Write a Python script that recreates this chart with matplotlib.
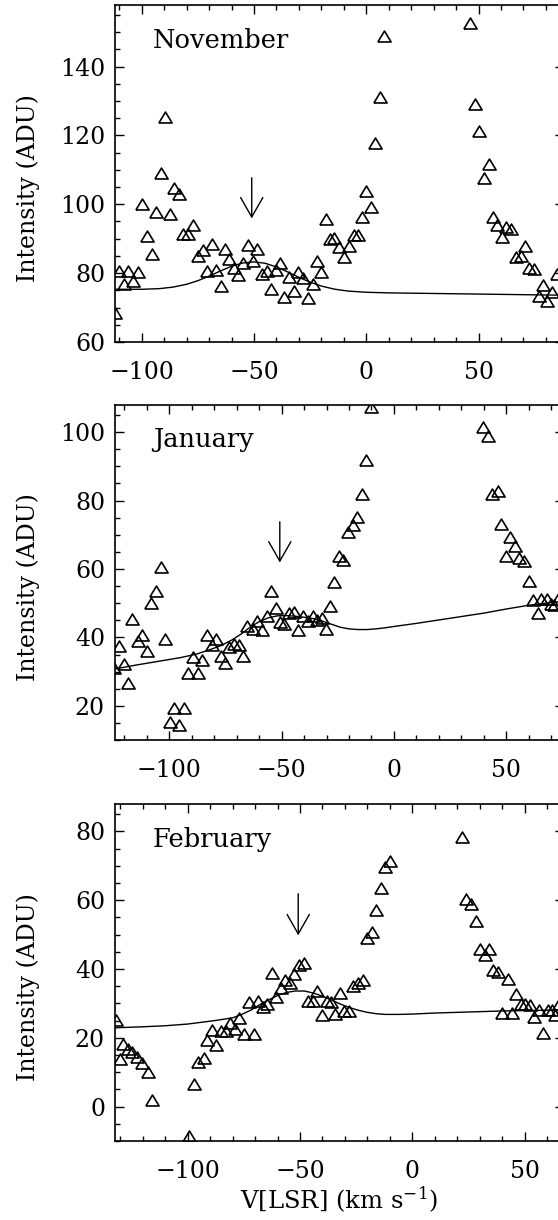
import matplotlib
matplotlib.use('Agg')
import matplotlib.pyplot as plt
from matplotlib.ticker import MultipleLocator

plt.rcParams['font.family'] = ['DejaVu Serif']
plt.rcParams['mathtext.fontset'] = 'dejavuserif'

# November
nov_v = [-112.0, -110.0, -108.0, -106.0, -103.8, -101.5, -99.8, -97.5, -95.6, -93.7,
         -91.6, -89.4, -87.4, -85.5, -83.4, -81.5, -79.2, -77.0, -75.1, -72.9,
         -71.1, -68.8, -66.9, -64.8, -62.9, -61.0, -58.9, -56.9, -54.7, -52.8,
         -50.6, -48.5, -46.5, -44.3, -42.4, -40.3, -38.4, -36.6, -34.2, -32.4,
         -30.2, -28.2, -26.0, -23.9, -22.0, -20.2, -18.0, -16.2, -14.2, -12.2,
         -9.9, -7.7, -5.6, -3.7, -1.8, 0.0, 2.2, 3.9, 6.0, 8.0,
         46.4, 48.3, 50.4, 52.5, 54.6, 56.5, 58.3, 60.5, 62.4, 64.5,
         66.6, 68.7, 70.6, 72.6, 74.6, 76.7, 78.6, 80.6, 82.8, 85.0]
nov_i = [68.3, 80.7, 76.8, 80.7, 77.7, 80.4, 100.1, 90.9, 85.7, 97.8,
         109.0, 125.3, 97.1, 104.6, 103.0, 91.5, 91.5, 94.0, 85.0, 86.7,
         80.7, 88.4, 80.9, 76.2, 86.9, 84.0, 81.4, 79.4, 82.8, 88.2,
         83.5, 86.9, 79.7, 80.7, 75.3, 80.9, 83.0, 73.1, 79.0, 74.8,
         80.4, 78.5, 72.8, 76.7, 83.6, 80.4, 95.6, 89.8, 90.1, 87.5,
         84.6, 87.9, 91.0, 91.0, 96.4, 104.0, 99.2, 117.7, 131.1, 149.0,
         152.8, 129.1, 121.4, 107.5, 111.7, 96.4, 94.0, 90.6, 93.5, 92.7,
         84.6, 85.1, 88.0, 81.6, 81.2, 73.3, 76.5, 72.0, 74.6, 79.7]
nov_fit_v = [-112, -100, -92, -86, -80, -75, -70, -65, -60, -55, -50, -45, -40,
             -35, -30, -25, -20, -14, -8, 0, 10, 40, 88]
nov_fit_i = [75.31, 75.30, 75.50, 75.94, 76.76, 77.80, 79.12, 80.61, 81.98, 82.94,
             83.27, 82.86, 81.80, 80.35, 78.78, 77.37, 76.24, 75.32, 74.78, 74.44,
             74.26, 74.0, 73.58]

# January
jan_v = [-124.7, -122.3, -120.2, -118.3, -116.4, -114.1, -112.1, -109.8, -108.0, -105.8,
         -103.7, -101.7, -99.7, -97.8, -95.7, -93.5, -91.6, -89.6, -87.4, -85.3,
         -83.4, -81.2, -79.3, -77.2, -75.2, -73.3, -71.2, -69.0, -67.1, -65.2,
         -62.9, -60.8, -58.6, -56.7, -54.8, -52.7, -50.8, -48.8, -46.6, -44.5,
         -42.6, -40.4, -38.4, -36.2, -34.1, -32.2, -30.3, -28.5, -26.5, -24.5,
         -22.6, -20.3, -18.4, -16.3, -14.2, -12.2, -10.4,
         39.8, 42.0, 43.9, 46.2, 47.9, 49.9, 51.9, 53.9, 55.8, 57.9,
         60.1, 62.0, 64.0, 65.7, 68.0, 69.8, 71.4, 73.2]
jan_i = [31.2, 37.5, 32.2, 26.6, 45.3, 39.0, 40.6, 36.0, 50.1, 53.7,
         60.6, 39.4, 15.4, 19.3, 14.5, 19.3, 29.7, 34.3, 29.6, 33.4,
         40.6, 37.7, 39.4, 34.6, 32.5, 37.3, 38.2, 37.7, 34.6, 43.3,
         42.5, 44.8, 42.2, 46.4, 53.7, 48.6, 44.5, 43.8, 47.2, 47.4,
         42.3, 46.2, 44.8, 46.2, 45.1, 45.7, 42.5, 49.1, 56.1, 63.7,
         62.7, 70.9, 72.9, 75.3, 81.9, 91.8, 107.5,
         101.5, 99.0, 81.8, 82.8, 73.2, 63.7, 69.5, 66.6, 63.2, 62.2,
         56.6, 50.8, 47.2, 51.1, 51.1, 49.9, 49.4, 51.1]
jan_fit_v = [-124, -115, -105, -95, -88, -82, -77, -72, -68, -64, -60, -56, -52, -48,
             -44, -40, -36, -32, -28, -24, -20, -16, -12, -8, -4, 0, 10, 20, 30, 40,
             50, 60, 70, 76]
jan_fit_i = [30.8, 31.9, 33.0, 34.1, 35.1, 36.4, 37.6, 39.3, 41.0, 43.0, 44.6, 45.7,
             46.3, 46.4, 46.2, 45.9, 45.5, 44.8, 43.9, 43.0, 42.5, 42.3, 42.3, 42.5,
             42.8, 43.2, 44.1, 45.1, 46.1, 47.1, 48.3, 49.4, 50.2, 50.6]

# February
feb_v = [-131.9, -130.1, -128.9, -126.8, -124.6, -122.7, -120.4, -117.9, -116.0,
         -99.6, -97.4, -95.2, -92.9, -91.4, -89.2, -87.3, -85.2, -83.0, -81.0,
         -79.1, -77.0, -75.1, -72.9, -70.6, -68.8, -66.6, -64.7, -62.4, -60.5,
         -58.4, -56.5, -54.6, -52.5, -50.5, -48.3, -46.4, -44.3, -42.4, -40.4,
         -38.2, -36.1, -34.4, -32.3, -30.2, -28.2, -26.3, -24.2, -22.0, -20.1,
         -18.1, -16.1, -14.1, -12.2, -10.0,
         22.3, 24.1, 26.3, 28.2, 30.2, 32.3, 34.3, 36.1, 38.2, 40.1,
         42.4, 44.6, 46.2, 48.3, 50.3, 52.3, 54.3, 56.3, 58.3, 60.2,
         62.0, 63.5, 65.4]
feb_i = [25.1, 13.9, 18.3, 16.8, 15.8, 14.4, 12.6, 10.0, 1.8,
         -8.7, 6.6, 13.1, 14.1, 19.4, 22.2, 18.0, 22.0, 22.0, 24.3,
         22.6, 25.8, 21.2, 30.4, 21.2, 30.6, 28.9, 29.7, 38.8, 32.0,
         34.6, 36.7, 36.0, 38.6, 41.3, 41.7, 30.6, 30.6, 33.6, 26.7,
         30.6, 30.4, 27.0, 33.0, 27.8, 27.8, 35.2, 35.9, 36.9, 49.1,
         50.7, 57.3, 63.6, 69.6, 71.4,
         78.5, 60.4, 58.8, 53.9, 45.7, 44.2, 45.7, 39.8, 39.1, 27.2,
         37.2, 27.2, 32.8, 29.7, 29.7, 29.4, 26.0, 28.2, 21.4, 28.2,
         28.2, 26.5, 29.7]
feb_fit_v = [-132.5, -120, -110, -100, -94, -88, -84, -80, -76, -72, -68, -64, -60,
             -56, -52, -48, -44, -40, -36, -32, -28, -24, -20, -16, -12, -6, 0, 10,
             20, 40, 67.5]
feb_fit_i = [22.9, 23.2, 23.5, 24.0, 24.5, 25.0, 25.4, 25.8, 26.8, 28.0, 29.6, 31.0,
             32.3, 33.2, 33.6, 33.6, 33.0, 32.1, 31.0, 29.8, 28.8, 28.0, 27.4, 27.0,
             26.8, 26.8, 26.9, 27.2, 27.4, 27.8, 28.1]

months = ['November', 'January', 'February']
xlims = [(-112, 88), (-124.3, 75.7), (-132.5, 67.5)]
ylims = [(60, 158), (10, 108), (-10, 88)]
# arrow: velocity, top, tip
arrows = [(-51.0, 107.7, 95.9), (-50.8, 73.8, 61.9), (-50.8, 61.9, 49.8)]
# axes rectangles in figure fractions
boxes = [[0.2056, 0.7197, 0.805, 0.2765],
         [0.2056, 0.3934, 0.805, 0.2748],
         [0.2056, 0.0648, 0.805, 0.2762]]

data = [(nov_v, nov_i, nov_fit_v, nov_fit_i),
        (jan_v, jan_i, jan_fit_v, jan_fit_i),
        (feb_v, feb_i, feb_fit_v, feb_fit_i)]

tri = [(-1, -0.83), (0, 0.83), (1, -0.83), (-1, -0.83)]

fig = plt.figure(figsize=(5.58, 12.20), dpi=100)

for k in range(3):
    ax = fig.add_axes(boxes[k])
    v, i, fv, fi = data[k]
    ax.plot(v, i, linestyle='none', marker=tri, markersize=9.5,
            mfc='none', mec='k', mew=1.2)
    ax.plot(fv, fi, color='k', lw=1.0)
    av, atop, atip = arrows[k]
    ax.annotate('', xy=(av, atip), xytext=(av, atop),
                arrowprops=dict(arrowstyle='->,head_length=1.4,head_width=0.8',
                                lw=1.0, color='k', shrinkA=0, shrinkB=0,
                                mutation_scale=10))
    ax.set_xlim(*xlims[k])
    ax.set_ylim(*ylims[k])
    ax.xaxis.set_major_locator(MultipleLocator(50))
    ax.xaxis.set_minor_locator(MultipleLocator(10))
    ax.yaxis.set_major_locator(MultipleLocator(20))
    ax.yaxis.set_minor_locator(MultipleLocator(5))
    ax.tick_params(which='both', direction='in', top=True, right=True, width=1.0)
    ax.tick_params(which='major', length=6.5)
    ax.tick_params(which='minor', length=3.6)
    ax.tick_params(axis='x', pad=14, labelsize=17)
    ax.tick_params(axis='y', pad=7, labelsize=17)
    for s in ax.spines.values():
        s.set_linewidth(1.2)
    ax.text(0.085, 0.895, months[k], transform=ax.transAxes, fontsize=18.5,
            ha='left', va='center')
    yc = (1 - (boxes[k][1] + boxes[k][3] / 2)) * 1220 + 15
    fig.text(28 / 558, 1 - yc / 1220, 'Intensity (ADU)', rotation=90,
             fontsize=17, ha='center', va='center')

fig.text(339 / 558, 1 - 1200 / 1220, r'V[LSR] (km s$^{-1}$)', fontsize=17.5,
         ha='center', va='center')

fig.savefig('out.png', dpi=100)
